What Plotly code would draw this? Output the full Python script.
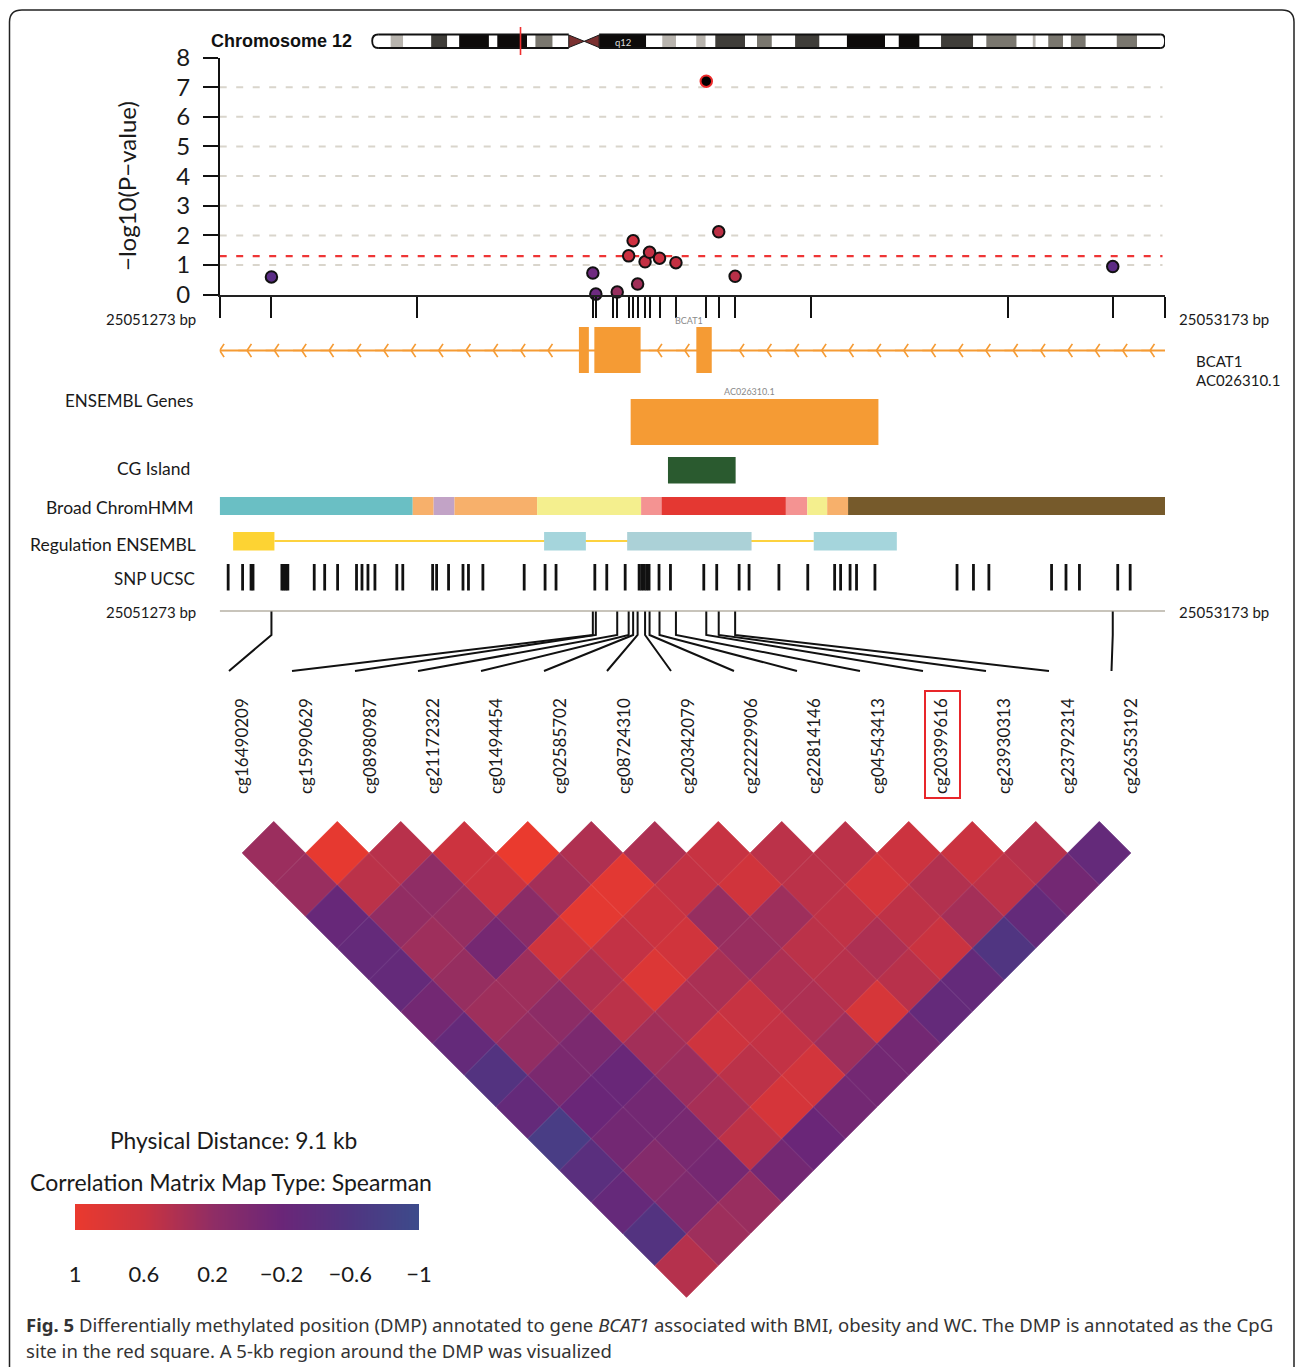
import plotly.graph_objects as go

W, H = 1295, 1368
BASE = 25051273
SPAN = 1900
X0, X1 = 219.7, 1165.0

# ---- data -------------------------------------------------------------
probe_names = ["cg16490209", "cg15990629", "cg08980987", "cg21172322", "cg01494454",
               "cg02585702", "cg08724310", "cg20342079", "cg22229906", "cg22814146",
               "cg04543413", "cg20399616", "cg23930313", "cg23792314", "cg26353192"]
probe_offsets = [104, 750, 756, 799, 822, 831, 840, 855, 864, 884, 917, 978, 1003, 1036, 1795]
probe_logp = [0.6, 0.73, 0.02, 0.09, 1.31, 1.82, 0.36, 1.11, 1.43, 1.23, 1.08, 7.2, 2.12, 0.62, 0.95]
probe_colors = ["#5b2d86", "#6f2a80", "#6d2a80", "#96305f", "#cc3040", "#cf3040", "#a02f58",
                "#c43044", "#c23044", "#cc3040", "#c43042", "#000000", "#bc3045", "#b83048", "#5c2b84"]
extra_tick_offsets = [0, 396, 790, 1189, 1585, 1900]
grid_levels = [1, 2, 3, 4, 5, 6, 7]
threshold = 1.3

exons = [(722, 742), (753, 846), (958, 989)]
ensembl_gene = (826, 1324)
cg_island = (901, 1037)
chromhmm_edges = [0, 388, 430, 472, 638, 847, 888, 1138, 1181, 1221, 1263, 1900]
chromhmm_colors = ["#6abfc4", "#f7b06b", "#c2a3c6", "#f7b06b", "#f4ef8e", "#f49392", "#e43832",
                   "#f49392", "#f4ef8e", "#f7b06b", "#765a2b"]
regulation = [(27, 110, "#fdd333"), (652, 736, "#a5d5dc"), (819, 1069, "#abd1d7"), (1194, 1361, "#a5d5dc")]
regulation_link = (110, 1194)
snp_offsets = [17, 46, 63, 67, 125, 129, 133, 137, 190, 211, 237, 275, 286, 298, 312, 356, 368,
               428, 436, 460, 489, 500, 529, 612, 654, 676, 754, 778, 815, 843, 848, 853, 858,
               863, 883, 906, 973, 999, 1044, 1064, 1124, 1182, 1236, 1248, 1267, 1280, 1317,
               1482, 1515, 1546, 1672, 1701, 1728, 1805, 1830]
gene_arrow_offsets = [0, 55, 110, 165, 220, 275, 330, 385, 440, 495, 550, 605, 660,
                      880, 935, 1045, 1100, 1155, 1210, 1265, 1320, 1375, 1430, 1485,
                      1540, 1595, 1650, 1705, 1760, 1815, 1870]

# chromosome 12 bands, Mb
band_edges = [0.2, 3.3, 5.4, 10.1, 12.8, 14.8, 19.8, 21.2, 26.2, 27.6, 30.5, 33.2]
band_fill = ["w", "l", "w", "d", "w", "k", "w", "k", "w", "g", "w"]
band_edges_q = [38.3, 46.2, 48.9, 51.2, 54.6, 56.2, 57.8, 62.8, 64.8, 67.3, 71.2, 75.3, 79.9,
                86.3, 88.6, 92.1, 95.7, 101.1, 103.3, 108.4, 111.1, 111.6, 113.7, 116.2, 117.5,
                120.0, 125.2, 128.6, 133.3]
band_fill_q = ["k", "w", "l", "w", "l", "w", "d", "w", "g", "w", "d", "w", "k", "w", "k", "w",
               "d", "w", "g", "w", "l", "w", "g", "w", "g", "w", "g", "w"]
band_palette = {"w": "#ffffff", "l": "#b8b4ae", "g": "#7a776f", "d": "#3f3d39", "k": "#0d0b0a"}
centromere_mb = 35.8
marker_mb = 25.1

# correlations: each row holds probe pairs at one separation
corr_rows = [
    [0.28, 0.95, 0.48, 0.62, 1.0, 0.42, 0.40, 0.58, 0.5, 0.5, 0.62, 0.6, 0.47, -0.3],
    [0.27, 0.5, 0.2, 0.62, 0.34, 0.9, 0.56, 0.68, 0.5, 0.72, 0.44, 0.51, -0.1],
    [-0.25, 0.22, 0.24, 0.15, 0.92, 0.6, 0.25, 0.3, 0.53, 0.52, 0.34, -0.3],
    [-0.3, 0.3, -0.08, 0.66, 0.55, 0.68, 0.27, 0.5, 0.4, 0.6, -0.6],
    [-0.3, 0.25, 0.3, 0.42, 0.82, 0.38, 0.4, 0.47, 0.48, -0.3],
    [-0.1, 0.3, 0.17, 0.5, 0.4, 0.58, 0.4, 0.75, -0.3],
    [-0.3, 0.22, -0.02, 0.33, 0.65, 0.55, 0.3, -0.1],
    [-0.55, -0.02, -0.22, 0.28, 0.5, 0.7, -0.1],
    [-0.3, -0.2, -0.1, 0.36, 0.74, -0.1],
    [-0.75, -0.1, -0.05, 0.52, -0.2],
    [-0.45, 0.08, -0.08, -0.1],
    [-0.28, 0.02, 0.27],
    [-0.55, 0.3],
    [0.46],
]
corr_colorscale = [[0.0, "#3c4b8b"], [0.2, "#503581"], [0.4, "#6a2678"], [0.6, "#8f2d65"],
                   [0.8, "#ca3340"], [1.0, "#ea3a2e"]]
legend_ticks = [1, 0.6, 0.2, -0.2, -0.6, -1]
legend_labels = ["1", "0.6", "0.2", "\u22120.2", "\u22120.6", "\u22121"]
legend_steps = [1, 0.8, 0.6, 0.4, 0.2, 0, -0.2, -0.4, -0.6, -0.8, -1]

caption_1 = ("<b>Fig. 5</b> Differentially methylated position (DMP) annotated to gene <i>BCAT1</i> "
             "associated with BMI, obesity and WC. The DMP is annotated as the CpG")
caption_2 = "site in the red square. A 5-kb region around the DMP was visualized"

# ---- helpers -----------------------------------------------------------
px = lambda v: v / W
py = lambda v: 1 - v / H
bp = lambda off: BASE + off
bp_at = lambda v: BASE + (v - X0) * SPAN / (X1 - X0)

SANS = "Lato, 'Open Sans', sans-serif"
ORANGE = "#f59b34"
fig = go.Figure()
shapes, notes = [], []


def note(x, y, text, size=16, color="#1a1a1a", family=SANS, anchor="center", angle=0):
    shift = {"left": -2, "right": 2, "center": 0}[anchor]
    notes.append(dict(x=px(x + shift), y=py(y), xref="paper", yref="paper", text=text, showarrow=False,
                      xanchor=anchor, yanchor="middle", textangle=angle,
                      font=dict(size=size, color=color, family=family)))


def band(start, end, top, bottom, color, xref="x"):
    shapes.append(dict(type="rect", xref=xref, yref="paper", x0=start, x1=end, y0=py(bottom), y1=py(top),
                       fillcolor=color, line=dict(width=0)))


# ---- border and ideogram ----------------------------------------------
shapes.append(dict(type="path", xref="paper", yref="paper", line=dict(color="#222", width=1.5),
                   path=f"M {px(9.5)} {py(1367)} L {px(9.5)} {py(22)} Q {px(9.5)} {py(10)} {px(22)} {py(10)} "
                        f"L {px(1282)} {py(10)} Q {px(1294)} {py(10)} {px(1294)} {py(22)} L {px(1294)} {py(1367)}"))
for i, key in enumerate(band_fill):
    band(band_edges[i], band_edges[i + 1], 35, 47.5, band_palette[key], "x2")
for i, key in enumerate(band_fill_q):
    band(band_edges_q[i], band_edges_q[i + 1], 35, 47.5, band_palette[key], "x2")
for a, b in ((33.2, centromere_mb), (38.3, centromere_mb)):
    shapes.append(dict(type="path", xref="x2", yref="paper", fillcolor="#7a3030", line=dict(color="#1a1a1a", width=1),
                       path=f"M {a} {py(35)} L {b} {py(41.3)} L {a} {py(47.5)} Z"))
for y in (34.5, 48):
    for a, b in ((1.2, 33.2), (38.3, 132.6)):
        shapes.append(dict(type="line", xref="x2", yref="paper", x0=a, x1=b, y0=py(y), y1=py(y),
                           line=dict(color="#111", width=1.8)))
for side, tip in ((1.2, 0.2), (132.6, 133.3)):
    shapes.append(dict(type="path", xref="x2", yref="paper", line=dict(color="#111", width=1.8),
                       path=f"M {side} {py(34.5)} Q {tip} {py(34.5)} {tip} {py(41)} Q {tip} {py(48)} {side} {py(48)}"))
shapes.append(dict(type="line", xref="x2", yref="paper", x0=marker_mb, x1=marker_mb, y0=py(27), y1=py(55),
                   line=dict(color="#ee2f2f", width=1.6)))

# ---- manhattan ---------------------------------------------------------
for lv in grid_levels:
    shapes.append(dict(type="line", xref="x", yref="y", x0=bp(0), x1=bp(SPAN - 5), y0=lv, y1=lv, layer="below",
                       line=dict(color="#d9d5cc", width=2, dash="7px,9.5px")))
shapes.append(dict(type="line", xref="x", yref="y", x0=bp(0), x1=bp(SPAN - 5), y0=threshold, y1=threshold, layer="below",
                   line=dict(color="#ee3535", width=2.2, dash="7px,9.5px")))
fig.add_trace(go.Scatter(
    x=[bp(o) for o in probe_offsets], y=probe_logp, mode="markers", cliponaxis=False, hoverinfo="skip",
    marker=dict(size=11.5, color=probe_colors,
                line=dict(width=2, color=["#ee2b2b" if c == "#000000" else "#111111" for c in probe_colors])),
    xaxis="x", yaxis="y"))

# ---- annotation tracks -------------------------------------------------
fig.add_trace(go.Scatter(x=[bp(0), bp(SPAN)], y=[350.5, 350.5], mode="lines", hoverinfo="skip",
                         line=dict(color=ORANGE, width=2), xaxis="x", yaxis="y2"))
fig.add_trace(go.Scatter(x=[bp(o) for o in gene_arrow_offsets], y=[350.5] * len(gene_arrow_offsets),
                         mode="markers", hoverinfo="skip", xaxis="x", yaxis="y2", cliponaxis=True,
                         marker=dict(symbol="y-left", size=11, color=ORANGE, line=dict(color=ORANGE, width=1.7))))
for a, b in exons:
    band(bp(a), bp(b), 327, 373, ORANGE)
band(bp(ensembl_gene[0]), bp(ensembl_gene[1]), 399, 445, ORANGE)
band(bp(cg_island[0]), bp(cg_island[1]), 457, 483.5, "#2a5a2f")
for i, col in enumerate(chromhmm_colors):
    band(bp(chromhmm_edges[i]), bp(chromhmm_edges[i + 1]), 497, 515, col)
fig.add_trace(go.Scatter(x=[bp(regulation_link[0]), bp(regulation_link[1])], y=[541, 541], mode="lines",
                         hoverinfo="skip", line=dict(color="#fdd23f", width=2), xaxis="x", yaxis="y2"))
for a, b, col in regulation:
    band(bp(a), bp(b), 532, 550.5, col)
snp_x, snp_y = [], []
for o in snp_offsets:
    snp_x += [bp(o), bp(o), None]
    snp_y += [564, 590.5, None]
fig.add_trace(go.Scatter(x=snp_x, y=snp_y, mode="lines", hoverinfo="skip",
                         line=dict(color="#111", width=2.8), xaxis="x", yaxis="y2"))
fig.add_trace(go.Scatter(x=[bp(0), bp(SPAN)], y=[611, 611], mode="lines", hoverinfo="skip",
                         line=dict(color="#c8c4bb", width=2), xaxis="x", yaxis="y2"))

# ---- connectors --------------------------------------------------------
slot_px = [229, 292, 355, 418, 481, 544, 607, 671, 734, 797, 860, 923, 986, 1049, 1111.5]
label_px = [243, 307, 371, 434, 497, 561, 625, 689, 752, 815, 879, 942, 1005, 1069, 1132]
con_x, con_y = [], []
for o, s in zip(probe_offsets, slot_px):
    con_x += [bp(o), bp(o), bp_at(s), None]
    con_y += [611.5, 635, 671, None]
fig.add_trace(go.Scatter(x=con_x, y=con_y, mode="lines", hoverinfo="skip",
                         line=dict(color="#111", width=2), xaxis="x", yaxis="y2"))
for name, lx in zip(probe_names, label_px):
    note(lx - 1, 746, name, size=17, angle=-90)
shapes.append(dict(type="rect", xref="paper", yref="paper", x0=px(925), x1=px(960), y0=py(798), y1=py(691),
                   line=dict(color="#e8262a", width=2)))

# ---- correlation triangle ----------------------------------------------
cx, cy, cz = [], [], []
for r, row in enumerate(corr_rows):
    sep = r + 1
    for k, val in enumerate(row):
        cx.append(k + sep / 2)
        cy.append(sep)
        cz.append(val)
fig.add_trace(go.Scatter(
    x=cx, y=cy, mode="markers", hoverinfo="skip", cliponaxis=False, xaxis="x3", yaxis="y3",
    marker=dict(symbol="diamond", size=48.4, color=cz, colorscale=corr_colorscale, cmin=-1, cmax=1,
                showscale=False,
                line=dict(width=0.9, color=cz, colorscale=corr_colorscale, cmin=-1, cmax=1))))

# ---- legend bar --------------------------------------------------------
fig.add_trace(go.Heatmap(x=legend_steps, y=[0], z=[legend_steps], colorscale=corr_colorscale, zmin=-1, zmax=1,
                         zsmooth="best", showscale=False, hoverinfo="skip", xaxis="x4", yaxis="y4"))

# ---- texts -------------------------------------------------------------
note(281, 41, "<b>Chromosome 12</b>", size=18, color="#111", family="'Liberation Sans', Arial, sans-serif")
note(623, 42.5, "q12", size=9.5, color="#ddd")
note(127, 186, "\u2212log10(P\u2212value)", size=24, angle=-90)
note(196, 319, "25051273 bp", size=15, anchor="right")
note(1179, 319, "25053173 bp", size=15, anchor="left")
note(196, 612, "25051273 bp", size=15, anchor="right")
note(1179, 612, "25053173 bp", size=15, anchor="left")
note(688.5, 320, "BCAT1", size=9, color="#8a8a8a")
note(750, 391, "AC026310.1", size=9, color="#8a8a8a")
note(1196, 361, "BCAT1", size=15, anchor="left")
note(1196, 380, "AC026310.1", size=15, anchor="left")
note(193, 400, "ENSEMBL Genes", size=17, anchor="right")
note(190, 469, "CG Island", size=17.5, anchor="right")
note(194, 507, "Broad ChromHMM", size=17.5, anchor="right")
note(196, 544, "Regulation ENSEMBL", size=17.5, anchor="right")
note(195, 578, "SNP UCSC", size=17, anchor="right")
note(233, 1140, "Physical Distance: 9.1 kb", size=22.8)
note(230.5, 1182, "Correlation Matrix Map Type: Spearman", size=23)
note(26, 1324, caption_1, size=18.55, color="#333", family="'Noto Sans', sans-serif", anchor="left")
note(26, 1350, caption_2, size=18.55, color="#333", family="'Noto Sans', sans-serif", anchor="left")

# ---- layout ------------------------------------------------------------
fig.update_layout(
    width=W, height=H, margin=dict(l=0, r=0, t=0, b=0, autoexpand=False), showlegend=False,
    paper_bgcolor="#ffffff", plot_bgcolor="rgba(0,0,0,0)", shapes=shapes, annotations=notes,
    xaxis=dict(domain=[px(X0), px(X1)], range=[bp(0), bp(SPAN)], anchor="y", showgrid=False, zeroline=False,
               showline=True, linecolor="#222", linewidth=1.6, ticks="outside", ticklen=21, tickwidth=1.6,
               tickcolor="#111", tickvals=[bp(o) for o in sorted(probe_offsets + extra_tick_offsets)],
               showticklabels=False, automargin=False),
    yaxis=dict(domain=[py(294.7), py(57.5)], range=[0, 8], anchor="x", showgrid=False, zeroline=False,
               showline=True, linecolor="#111", linewidth=1.6, ticks="outside", ticklen=15, tickwidth=1.8,
               tickcolor="#111", tickvals=[0, 1, 2, 3, 4, 5, 6, 7, 8], ticklabelstandoff=8, automargin=False,
               tickfont=dict(size=24, family=SANS, color="#1a1a1a")),
    yaxis2=dict(domain=[0, 1], range=[H, 0], anchor="x", visible=False, automargin=False),
    xaxis2=dict(domain=[px(371), px(1165)], range=[0, 133.3], anchor="y2", visible=False, automargin=False),
    xaxis3=dict(domain=[px(242), px(1131)], range=[0, 14], anchor="y3", visible=False, automargin=False),
    yaxis3=dict(domain=[py(1297.5), py(821.25)], range=[15, 0], anchor="x3", visible=False, automargin=False),
    xaxis4=dict(domain=[px(75), px(419)], range=[1, -1], anchor="y4", showgrid=False, zeroline=False, ticks="",
                tickvals=legend_ticks, ticktext=legend_labels, ticklabelstandoff=29, automargin=False,
                tickfont=dict(size=22, family=SANS, color="#1a1a1a")),
    yaxis4=dict(domain=[py(1230), py(1204)], range=[-0.5, 0.5], anchor="x4", visible=False, automargin=False),
)

fig.write_html("out.html", config={"displayModeBar": False},
               post_script="document.body.style.margin='0';")
